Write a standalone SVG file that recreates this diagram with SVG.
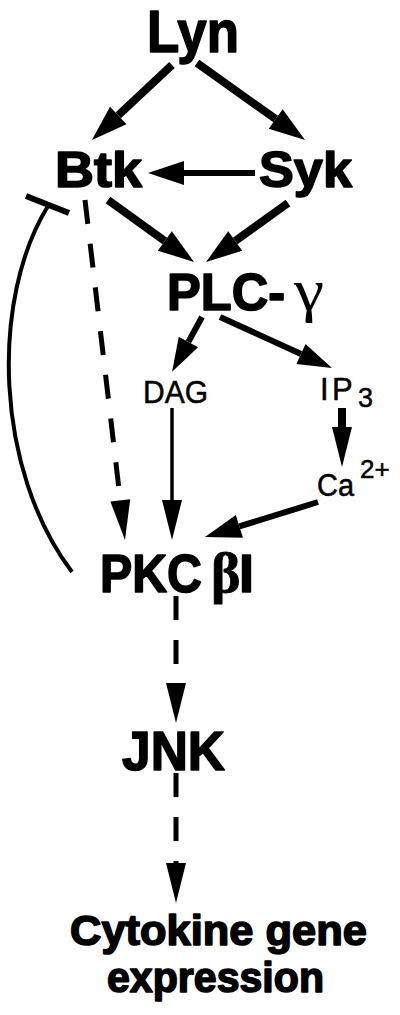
<svg xmlns="http://www.w3.org/2000/svg" width="400" height="1015" viewBox="0 0 400 1015">
<style>
.lb{font-family:"Liberation Sans",Arial,sans-serif;font-weight:bold;fill:#000;stroke:#000;stroke-width:1.6;stroke-linejoin:round}
.ln{font-family:"Liberation Sans",Arial,sans-serif;font-weight:normal;fill:#000;stroke:#000;stroke-width:0.5}
.gr{font-family:"Liberation Serif","DejaVu Serif",serif;fill:#000}
.a{stroke:#000;fill:none;stroke-width:8}
.t{stroke:#000;fill:none;stroke-width:3.5}
.m{stroke:#000;fill:none;stroke-width:6}
.d{stroke:#000;fill:none;stroke-width:5;stroke-dasharray:24 20}
</style>
<defs>
<marker id="big" markerUnits="userSpaceOnUse" orient="auto" refX="0" refY="0" overflow="visible" markerWidth="40" markerHeight="24"><path d="M0,-12 L36,0 L0,12 z" fill="#000"/></marker>
<marker id="mid" markerUnits="userSpaceOnUse" orient="auto" refX="0" refY="0" overflow="visible" markerWidth="40" markerHeight="24"><path d="M0,-11 L34,0 L0,11 z" fill="#000"/></marker>
<marker id="thin" markerUnits="userSpaceOnUse" orient="auto" refX="0" refY="0" overflow="visible" markerWidth="42" markerHeight="24"><path d="M0,-10 L40,0 L0,10 z" fill="#000"/></marker>
</defs>
<g id="connectors">
<line class="a" x1="172" y1="65" x2="118.2" y2="115.4" marker-end="url(#big)"/>
<line class="a" x1="197" y1="63" x2="275.7" y2="119.1" marker-end="url(#big)"/>
<line class="m" x1="255" y1="173" x2="184" y2="173" marker-end="url(#big)"/>
<line class="a" x1="108" y1="200" x2="164.8" y2="240.9" marker-end="url(#big)"/>
<line class="a" x1="288" y1="203" x2="235.2" y2="241" marker-end="url(#big)"/>
<line class="m" x1="202" y1="317" x2="188.4" y2="341.9" marker-end="url(#mid)"/>
<line class="m" x1="220" y1="317" x2="301" y2="353.9" marker-end="url(#mid)"/>
<line class="a" x1="342" y1="408" x2="342" y2="427" marker-end="url(#thin)"/>
<line class="t" x1="172" y1="408" x2="172" y2="500" marker-end="url(#thin)"/>
<line class="m" x1="318" y1="502" x2="239.4" y2="526.4" marker-end="url(#big)"/>
<line class="d" x1="85" y1="200" x2="120.3" y2="500.3" marker-end="url(#thin)"/>
<line class="d" x1="176" y1="596" x2="176" y2="683" marker-end="url(#thin)"/>
<line class="d" x1="176" y1="773" x2="176" y2="863" marker-end="url(#thin)"/>
<path class="t" style="stroke-width:4" d="M48,206 C -10,300 -5,470 72,572"/>
<line class="m" x1="26" y1="196" x2="69" y2="213"/>
</g>
<g id="Lyn"><text class="lb" x="147" y="52" font-size="60" textLength="92" lengthAdjust="spacingAndGlyphs">Lyn</text></g>
<g id="Btk"><text class="lb" x="55" y="187" font-size="50" textLength="87" lengthAdjust="spacingAndGlyphs">Btk</text></g>
<g id="Syk"><text class="lb" x="259" y="187" font-size="50" textLength="93" lengthAdjust="spacingAndGlyphs">Syk</text></g>
<g id="PLC"><text class="lb" x="167" y="310" font-size="51" textLength="118" lengthAdjust="spacingAndGlyphs">PLC-</text><text class="gr" x="294" y="310" font-size="60" textLength="30" lengthAdjust="spacingAndGlyphs">γ</text></g>
<g id="DAG"><text class="ln" x="143" y="403" font-size="32" textLength="65" lengthAdjust="spacingAndGlyphs">DAG</text></g>
<g id="IP3"><text class="ln" x="320" y="400" font-size="31">I</text><text class="ln" x="332" y="400" font-size="31">P</text><text class="ln" x="358" y="407" font-size="27">3</text></g>
<g id="Ca"><text class="ln" x="317" y="496" font-size="31" textLength="37" lengthAdjust="spacingAndGlyphs">Ca</text><text class="ln" x="360" y="478" font-size="26">2+</text></g>
<g id="PKC"><text class="lb" x="100" y="592" font-size="54"><tspan textLength="102" lengthAdjust="spacingAndGlyphs">PKC</tspan><tspan class="gr" x="211" font-size="56" style="stroke-width:0.8">β</tspan><tspan x="239">I</tspan></text></g>
<g id="JNK"><text class="lb" x="122" y="770" font-size="56" textLength="103" lengthAdjust="spacingAndGlyphs">JNK</text></g>
<g id="Cytokine"><text class="lb" x="70" y="945" font-size="42" textLength="297" lengthAdjust="spacingAndGlyphs">Cytokine gene</text><text class="lb" x="107" y="992" font-size="42" textLength="217" lengthAdjust="spacingAndGlyphs">expression</text></g>
</svg>
